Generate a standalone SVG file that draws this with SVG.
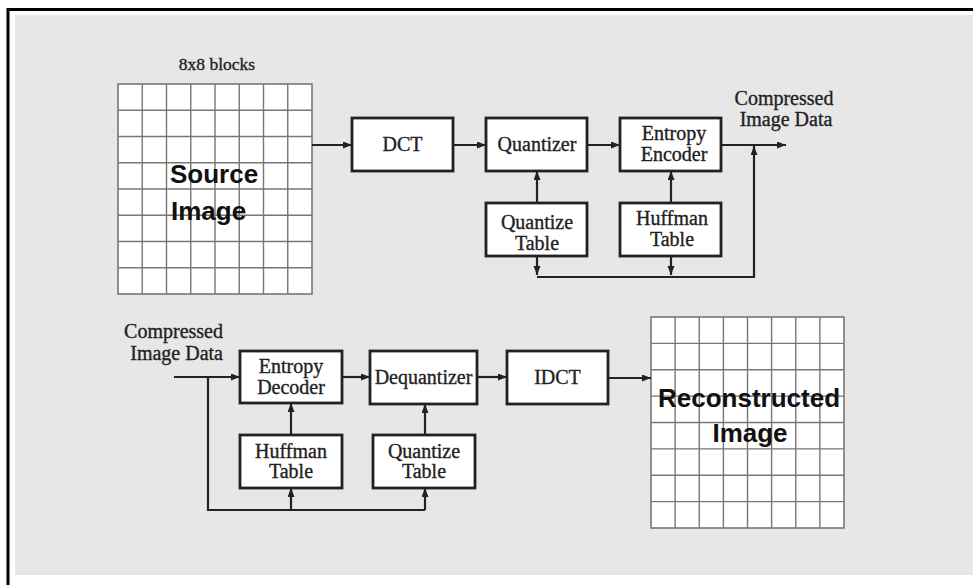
<svg xmlns="http://www.w3.org/2000/svg" width="973" height="585" viewBox="0 0 973 585">
  <style>
    .box { fill: #ffffff; stroke: #222222; stroke-width: 2.8; }
    .lbl { font-family: "Liberation Serif", "Times New Roman", serif; font-size: 20px; fill: #222222; stroke: #222222; stroke-width: 0.35; text-anchor: middle; }
    .big { font-family: "Liberation Sans", Arial, sans-serif; font-size: 26px; font-weight: bold; fill: #111111; }
    .grid { fill: none; stroke: #777777; stroke-width: 1.4; }
    .cell { fill: #ffffff; stroke: #777777; stroke-width: 1.6; }
    .wire { fill: none; stroke: #222222; stroke-width: 2.2; }
  </style>
  <defs>
    <marker id="arrow" markerUnits="userSpaceOnUse" markerWidth="10" markerHeight="8" refX="9" refY="3.5" orient="auto">
      <path d="M0,0 L9,3.5 L0,7 z" fill="#222222"/>
    </marker>
  </defs>

  <!-- page frame and panel -->
  <rect x="0" y="0" width="973" height="585" fill="#ffffff"/>
  <rect x="15" y="15" width="958" height="560" fill="#e7e7e7"/>
  <path d="M8,585 V9.5 H973" fill="none" stroke="#000000" stroke-width="3"/>

  <!-- source image: 8x8 block grid -->
  <g id="source-image">
    <text x="217" y="70" class="lbl" style="font-size:17.5px">8x8 blocks</text>
    <rect x="118" y="84" width="194" height="210" class="cell"/>
    <path class="grid" d="M142.25,84V294 M166.5,84V294 M190.75,84V294 M215,84V294 M239.25,84V294 M263.5,84V294 M287.75,84V294
                          M118,110.25H312 M118,136.5H312 M118,162.75H312 M118,189H312 M118,215.25H312 M118,241.5H312 M118,267.75H312"/>
    <text x="170" y="183" class="big">Source</text>
    <text x="171" y="220" class="big">Image</text>
  </g>

  <!-- encoder chain -->
  <g id="dct">
    <rect x="352" y="118" width="101" height="53" class="box"/>
    <text x="402.5" y="151" class="lbl">DCT</text>
  </g>
  <g id="quantizer">
    <rect x="486" y="118" width="101" height="53" class="box"/>
    <text x="537" y="151" class="lbl">Quantizer</text>
  </g>
  <g id="entropy-encoder">
    <rect x="620" y="118" width="101" height="53" class="box"/>
    <text x="674" y="140" class="lbl">Entropy</text>
    <text x="674" y="161" class="lbl">Encoder</text>
  </g>
  <g id="quantize-table-enc">
    <rect x="486" y="203" width="101" height="53" class="box"/>
    <text x="537" y="229" class="lbl">Quantize</text>
    <text x="537" y="250" class="lbl">Table</text>
  </g>
  <g id="huffman-table-enc">
    <rect x="620" y="203" width="101" height="53" class="box"/>
    <text x="672" y="225" class="lbl">Huffman</text>
    <text x="672" y="246" class="lbl">Table</text>
  </g>
  <g id="compressed-out">
    <text x="784" y="105" class="lbl">Compressed</text>
    <text x="786" y="126" class="lbl">Image Data</text>
  </g>

  <!-- decoder chain -->
  <g id="compressed-in">
    <text x="223" y="338" class="lbl" style="text-anchor:end">Compressed</text>
    <text x="223" y="360" class="lbl" style="text-anchor:end">Image Data</text>
  </g>
  <g id="entropy-decoder">
    <rect x="240" y="351" width="102" height="52" class="box"/>
    <text x="291" y="373" class="lbl">Entropy</text>
    <text x="291" y="394" class="lbl">Decoder</text>
  </g>
  <g id="huffman-table-dec">
    <rect x="240" y="435" width="102" height="53" class="box"/>
    <text x="291" y="458" class="lbl">Huffman</text>
    <text x="291" y="478" class="lbl">Table</text>
  </g>
  <g id="dequantizer">
    <rect x="370" y="351" width="107" height="53" class="box"/>
    <text x="423.5" y="384" class="lbl">Dequantizer</text>
  </g>
  <g id="quantize-table-dec">
    <rect x="373" y="435" width="102" height="53" class="box"/>
    <text x="424" y="458" class="lbl">Quantize</text>
    <text x="424" y="478" class="lbl">Table</text>
  </g>
  <g id="idct">
    <rect x="507" y="351" width="101" height="53" class="box"/>
    <text x="557.5" y="384" class="lbl">IDCT</text>
  </g>

  <!-- reconstructed image grid -->
  <g id="reconstructed-image">
    <rect x="651" y="317" width="193" height="211" class="cell"/>
    <path class="grid" d="M675.1,317V528 M699.25,317V528 M723.4,317V528 M747.5,317V528 M771.6,317V528 M795.75,317V528 M819.9,317V528
                          M651,343.4H844 M651,369.75H844 M651,396.1H844 M651,422.5H844 M651,448.9H844 M651,475.25H844 M651,501.6H844"/>
    <text x="749" y="407" class="big" style="text-anchor:middle">Reconstructed</text>
    <text x="750" y="442" class="big" style="text-anchor:middle">Image</text>
  </g>

  <!-- connectors -->
  <g id="connectors">
    <path class="wire" d="M312,145 H352" marker-end="url(#arrow)"/>
    <path class="wire" d="M453,145 H486" marker-end="url(#arrow)"/>
    <path class="wire" d="M587,145 H620" marker-end="url(#arrow)"/>
    <path class="wire" d="M721,145 H786" marker-end="url(#arrow)"/>
    <path class="wire" d="M537,203 V171" marker-end="url(#arrow)"/>
    <path class="wire" d="M671,203 V171" marker-end="url(#arrow)"/>
    <path class="wire" d="M537,256 V275" marker-end="url(#arrow)"/>
    <path class="wire" d="M671,256 V275" marker-end="url(#arrow)"/>
    <path class="wire" d="M537,277 H754 V146" marker-end="url(#arrow)"/>

    <path class="wire" d="M174,377 H240" marker-end="url(#arrow)"/>
    <path class="wire" d="M342,377 H370" marker-end="url(#arrow)"/>
    <path class="wire" d="M477,377 H507" marker-end="url(#arrow)"/>
    <path class="wire" d="M608,378 H651" marker-end="url(#arrow)"/>
    <path class="wire" d="M291,435 V403" marker-end="url(#arrow)"/>
    <path class="wire" d="M425,435 V404" marker-end="url(#arrow)"/>
    <path class="wire" d="M208,377 V510 H425"/>
    <path class="wire" d="M291,510 V488" marker-end="url(#arrow)"/>
    <path class="wire" d="M425,510 V488" marker-end="url(#arrow)"/>
  </g>
</svg>
